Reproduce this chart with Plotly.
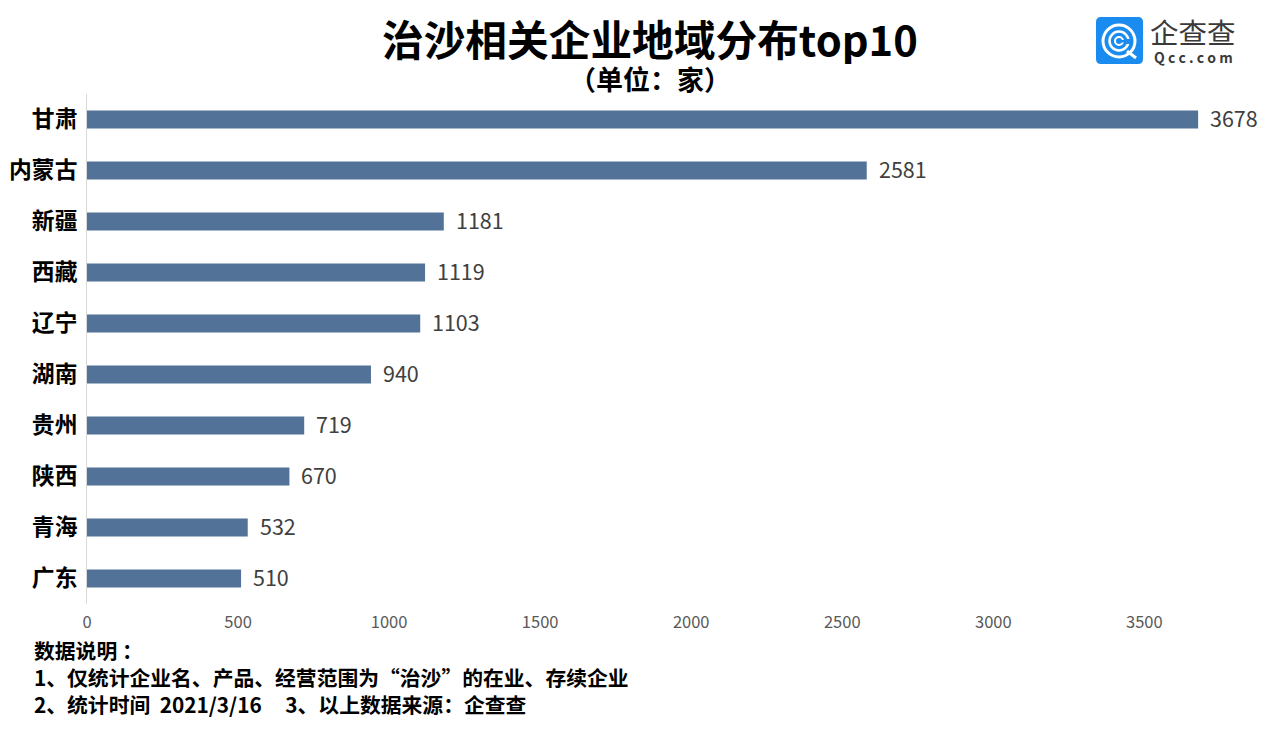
import plotly.graph_objects as go

FONT = 'Noto Sans CJK SC'
PAGE_W = 1273
PAGE_H = 730
# the page body has an 8px margin, so the figure sits 8px in from the corner
BODY = 8
LEFT, RIGHT, TOP, BOTTOM = 87, 1235, 94, 604

regions = ['甘肃', '内蒙古', '新疆', '西藏', '辽宁', '湖南', '贵州', '陕西', '青海', '广东']
counts = [3678, 2581, 1181, 1119, 1103, 940, 719, 670, 532, 510]
x_ticks = [0, 500, 1000, 1500, 2000, 2500, 3000, 3500]

title = '治沙相关企业地域分布top10'
subtitle = '（单位：家）'
notes = [
    '数据说明\u00a0：',
    '1、仅统计企业名、产品、经营范围为“治沙”的在业、存续企业',
    '2、统计时间\u00a0\u00a02021/3/16\u00a0\u00a0\u00a0\u00a0\u00a03、以上数据来源：企查查',
]


def px(x):
    return (x - LEFT) / (RIGHT - LEFT)


def py(y):
    return 1 - (y - TOP) / (BOTTOM - TOP)


def page_text(x, y, text, size, color='#000000', weight='normal', anchor='center', height=None):
    return dict(x=px(x), y=py(y), xref='paper', yref='paper', text=text, showarrow=False,
                xanchor=anchor, yanchor='middle', height=height,
                font=dict(family=FONT, size=size, color=color, weight=weight))


def circle(cx, cy, r, line_w, color='white'):
    return dict(type='circle', xref='paper', yref='paper',
                x0=px(cx - r), x1=px(cx + r), y0=py(cy + r), y1=py(cy - r),
                line=dict(color=color, width=line_w), fillcolor='rgba(0,0,0,0)')


def box(x0, y0, x1, y1, color):
    return dict(type='rect', xref='paper', yref='paper', x0=px(x0), x1=px(x1), y0=py(y1), y1=py(y0),
                line=dict(width=0), fillcolor=color)


fig = go.Figure(go.Bar(
    x=counts, y=regions, orientation='h',
    marker=dict(color='#527298', line=dict(width=0)),
))

# logo, top right
LOGO = '#1A8CF0'
shapes = [
    dict(type='path', xref='paper', yref='paper', line=dict(width=0), fillcolor=LOGO,
         path='M {} {} L {} {} Q {} {} {} {} L {} {} Q {} {} {} {} L {} {} Q {} {} {} {} L {} {} Q {} {} {} {} Z'.format(
             px(1101), py(17), px(1138), py(17), px(1143), py(17), px(1143), py(22),
             px(1143), py(59), px(1143), py(64), px(1138), py(64),
             px(1101), py(64), px(1096), py(64), px(1096), py(59),
             px(1096), py(22), px(1096), py(17), px(1101), py(17))),
    circle(1119, 41, 16, 3),
    circle(1119, 41, 9.5, 2.5),
    box(1123, 39, 1131, 44, LOGO),
    circle(1119, 41, 4, 2),
    box(1121, 40, 1125, 42.5, LOGO),
    dict(type='line', xref='paper', yref='paper', x0=px(1127), y0=py(51), x1=px(1136), y1=py(58),
         line=dict(color='white', width=3)),
]

annotations = [
    page_text(650, 38, title, 41.7, weight='bold', height=52),
    page_text(650, 78, subtitle, 27, weight='bold', height=30),
    page_text(1193, 31, '企查查', 28.5, color='#3A3A3A', height=32),
    page_text(1193, 57, 'Q c c . c o m', 14, color='#3A3A3A', weight='bold', height=18),
]
for i, note in enumerate(notes):
    annotations.append(page_text(32, 650 + i * 27, note, 20.8, weight='bold', anchor='left', height=26))

# value labels sit a little off the bar end
for region, count in zip(regions, counts):
    annotations.append(dict(x=count, y=region, xref='x', yref='y', text=str(count), showarrow=False,
                            xanchor='left', yanchor='middle', xshift=10, yshift=2,
                            font=dict(family=FONT, size=21.5, color='#404040')))

fig.update_layout(
    width=PAGE_W - BODY, height=PAGE_H - BODY,
    margin=dict(l=LEFT - BODY, r=PAGE_W - RIGHT, t=TOP - BODY, b=PAGE_H - BOTTOM),
    paper_bgcolor='white', plot_bgcolor='white',
    bargap=0.647, showlegend=False,
    shapes=shapes, annotations=annotations,
)
fig.update_xaxes(range=[0, 3800], tickvals=x_ticks, showgrid=False, zeroline=False, automargin=False,
                 showline=False, ticks='', ticklabelstandoff=6,
                 tickfont=dict(family=FONT, size=16.5, color='#595959'))
fig.update_yaxes(categoryorder='array', categoryarray=regions[::-1], showgrid=False, automargin=False,
                 zeroline=False, showline=True, linecolor='#D9D9D9', linewidth=1, ticks='',
                 ticklabelstandoff=4,
                 tickfont=dict(family=FONT, size=22.8, color='#000000', weight='bold'))

fig.write_html("out.html")
